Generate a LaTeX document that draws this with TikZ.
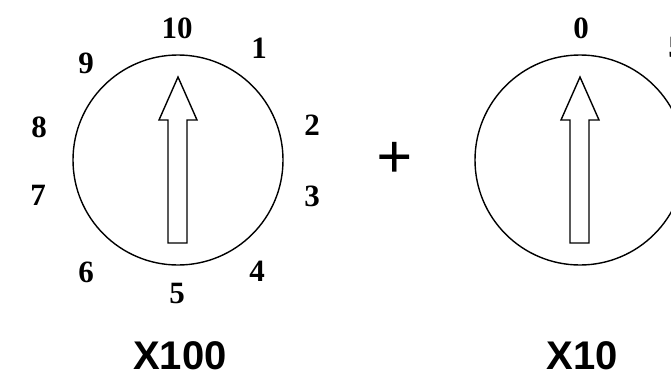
\documentclass[tikz,border=0pt]{standalone}
\usepackage{fontspec}
\setmainfont{Liberation Serif}
\setsansfont{Liberation Sans}
\usepackage{tikz}
\usetikzlibrary{calc}
\tikzset{
  dialnum/.style={font=\fontsize{31}{31}\selectfont\bfseries, inner sep=0pt},
  scalelbl/.style={font=\sffamily\bfseries\fontsize{40}{40}\selectfont, inner sep=0pt},
  ring/.style={draw, line width=1.4pt},
  pointer/.style={draw, line width=1.4pt, line join=miter}
}

\begin{document}
\begin{tikzpicture}[x=1pt,y=-1pt]
  \useasboundingbox (0,0) rectangle (671,380);
  \clip (0,0) rectangle (671,380);
  % hundreds dial
  \begin{scope}[xshift=0pt]
    \node[ring,circle,minimum size=210pt,inner sep=0pt] (dialA) at (178,160){};
    \draw[pointer](178,77)--(197,120)--(187,120)--(187,243)--(168,243)--(168,120)--(159,120)--cycle;
    \node[dialnum] (a10) at (177,28){10};
    \node[dialnum] (a1) at (259,48){1};
    \node[dialnum] (a2) at (312,125){2};
    \node[dialnum] (a3) at (312,196){3};
    \node[dialnum] (a4) at (257,271){4};
    \node[dialnum] (a5) at (177,293){5};
    \node[dialnum] (a6) at (86,272){6};
    \node[dialnum] (a7) at (38,195){7};
    \node[dialnum] (a8) at (39,127){8};
    \node[dialnum] (a9) at (86,63){9};
    \node[scalelbl] (multA) at (180,356){X100};
  \end{scope}
  \node[font=\fontsize{64}{64}\selectfont\bfseries, inner sep=0pt] (plus) at (395,160){+};
  % tens dial
  \begin{scope}[xshift=402pt]
    \node[ring,circle,minimum size=210pt,inner sep=0pt] (dialB) at (178,160){};
    \draw[pointer](178,77)--(197,120)--(187,120)--(187,243)--(168,243)--(168,120)--(159,120)--cycle;
    \node[dialnum] (b0) at (179,28){0};
    \node[dialnum] (b5) at (274,48){5};
    \node[scalelbl] (multB) at (180,356){X10};
  \end{scope}
\end{tikzpicture}
\end{document}
